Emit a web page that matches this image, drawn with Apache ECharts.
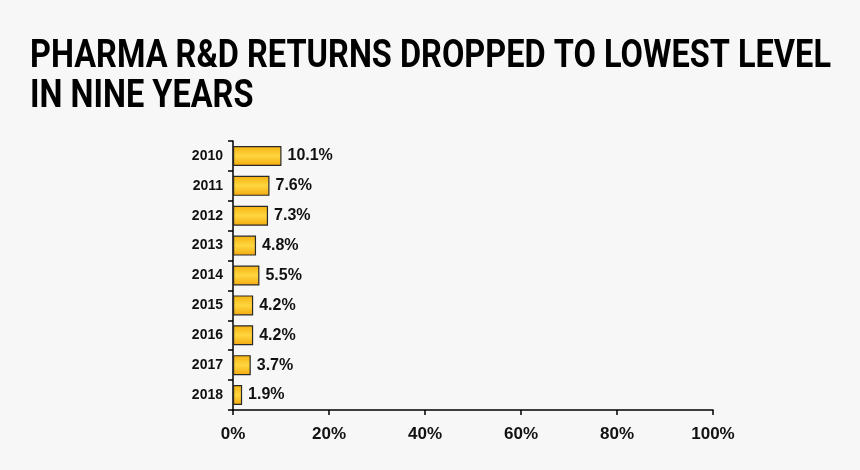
<!DOCTYPE html>
<html><head><meta charset="utf-8">
<script src="https://cdn.jsdelivr.net/npm/echarts@6/dist/echarts.min.js"></script>
<style>html,body{margin:0;padding:0;background:#f7f7f7;}#c{width:860px;height:470px;}</style>
</head><body><div id="c"></div>
<script>
const years = ['2010','2011','2012','2013','2014','2015','2016','2017','2018'];
const returns = [10.1, 7.6, 7.3, 4.8, 5.5, 4.2, 4.2, 3.7, 1.9];
const xTicks = [0, 20, 40, 60, 80, 100];
const titleLines = ['PHARMA R&D RETURNS DROPPED TO LOWEST LEVEL', 'IN NINE YEARS'];

// condensed look: horizontally scale the title text to the reference width
const titleFont = 'bold 38px Roboto';
const mc = document.createElement('canvas').getContext('2d');
mc.font = titleFont;
const titleW = mc.measureText(titleLines[0]).width;
const titleScale = 801 / titleW;

const chart = echarts.init(document.getElementById('c'), null, {renderer:'canvas'});
chart.setOption({
  backgroundColor: '#f7f7f7',
  animation: false,
  graphic: [{
    type: 'text', x: 30, y: 37, scaleX: titleScale, scaleY: 1, originX: 0, originY: 0,
    style: {text: titleLines.join('\n'), font: titleFont, lineHeight: 40, fill: '#000', textAlign: 'left', textVerticalAlign: 'top'}
  }],
  grid: {left: 233, right: 147, top: 141, bottom: 60},
  xAxis: {
    type: 'value', min: xTicks[0], max: xTicks[xTicks.length-1], interval: 20,
    axisLine: {show: true, lineStyle: {color: '#000', width: 1.5}},
    axisTick: {show: true, length: 5, lineStyle: {color: '#000', width: 1.5}},
    splitLine: {show: false},
    axisLabel: {formatter: '{value}%', fontFamily: 'Liberation Sans, Arial, sans-serif', fontWeight: 'bold', fontSize: 17, color: '#111', margin: 16}
  },
  yAxis: {
    type: 'category', data: years, inverse: true,
    axisLine: {show: true, lineStyle: {color: '#000', width: 1.5}},
    axisTick: {show: true, length: 5, lineStyle: {color: '#000', width: 1.5}},
    axisLabel: {fontFamily: 'Liberation Sans, Arial, sans-serif', fontWeight: 'bold', fontSize: 14, color: '#111', margin: 10}
  },
  series: [{
    type: 'bar', data: returns, barWidth: 20,
    itemStyle: {
      borderColor: '#2a2a2a', borderWidth: 1.2,
      color: new echarts.graphic.LinearGradient(0,0,0,1,[
        {offset:0, color:'#f5b20f'},
        {offset:0.5, color:'#ffd63f'},
        {offset:1, color:'#f3a90e'}
      ])
    },
    label: {show: true, position: 'right', distance: 6, formatter: p => p.value.toFixed(1) + '%',
      fontFamily: 'Liberation Sans, Arial, sans-serif', fontWeight: 'bold', fontSize: 16, color: '#111'}
  }]
});
</script></body></html>
